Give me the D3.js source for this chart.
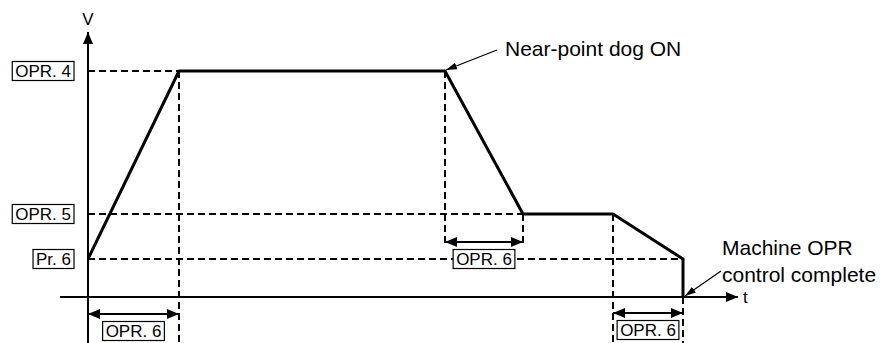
<!DOCTYPE html>
<html>
  <head>
    <meta charset="utf-8">
    <title>Machine OPR speed profile</title>
    <script src="https://cdn.jsdelivr.net/npm/d3@7/dist/d3.min.js"></script>
    <style>
      body { margin: 0; background: #fff; }
      svg { display: block; }
      text { font-family: "Liberation Sans", Arial, sans-serif; fill: #000; }
      .axis { stroke: #000; stroke-width: 2; fill: none; }
      .dash { stroke: #000; stroke-width: 2; stroke-dasharray: 7 4; fill: none; }
      .profile { stroke: #000; stroke-width: 3; fill: none; stroke-linejoin: round; }
      .span { stroke: #000; stroke-width: 2; fill: none; }
      .callout { stroke: #000; stroke-width: 1.2; fill: none; }
      .box { fill: #fff; stroke: #000; stroke-width: 1.2; }
      .boxLabel { font-size: 17px; }
      .note { font-size: 21px; }
    </style>
  </head>
  <body>
    <svg id="chart" width="891" height="343"></svg>

    <script>
      // data (time and speed in drawing units)
      profileT = [0, 91, 357, 435, 525, 595, 595];
      profileV = [38, 226, 226, 83, 83, 38, 0];

      levelNames = ["OPR. 4", "OPR. 5", "Pr. 6"];
      levelValues = [226, 83, 38];
      levelEnds = [91, 435, 595];

      guideT = [91, 357, 435, 525, 595];
      guideTop = [226, 226, 83, 83, 0];
      guideBottom = [-46, 50, 50, -46, -46];

      spanFrom = [0, 357, 525];
      spanTo = [91, 435, 595];
      spanV = [-17, 55, -16];
      spanLabels = ["OPR. 6", "OPR. 6", "OPR. 6"];

      // page elements
      chart = d3.select("#chart");

      x = d3.scaleLinear().domain([0, 650]).range([88, 738]);
      y = d3.scaleLinear().domain([0, 226]).range([297, 71]);

      defs = chart.append("defs");
      function marker(id, w, h) {
        defs.append("marker")
          .attr("id", id)
          .attr("viewBox", "0 0 " + w + " " + h)
          .attr("refX", w).attr("refY", h / 2)
          .attr("markerWidth", w).attr("markerHeight", h)
          .attr("markerUnits", "userSpaceOnUse")
          .attr("orient", "auto-start-reverse")
          .append("path")
            .attr("d", "M0,0L" + w + "," + (h / 2) + "L0," + h + "Z")
            .attr("fill", "#000");
      }
      marker("axisHead", 12, 10);
      marker("spanHead", 12, 10);
      marker("noteHead", 11, 7);

      // dashed level lines
      chart.selectAll(".levelLine")
          .data(levelValues)
        .enter().append("line")
          .attr("class", "dash levelLine")
          .attr("x1", x(0))
          .attr("x2", function(d, i) { return x(levelEnds[i]); })
          .attr("y1", function(d) { return y(d); })
          .attr("y2", function(d) { return y(d); });

      // dashed guide lines
      chart.selectAll(".guideLine")
          .data(guideT)
        .enter().append("line")
          .attr("class", "dash guideLine")
          .attr("x1", function(d) { return x(d); })
          .attr("x2", function(d) { return x(d); })
          .attr("y1", function(d, i) { return y(guideTop[i]); })
          .attr("y2", function(d, i) { return y(guideBottom[i]); });

      // axes
      chart.append("line")
        .attr("class", "axis")
        .attr("x1", x(0)).attr("x2", x(0))
        .attr("y1", y(-46)).attr("y2", y(265))
        .attr("marker-end", "url(#axisHead)");
      chart.append("line")
        .attr("class", "axis")
        .attr("x1", x(-28)).attr("x2", x(650))
        .attr("y1", y(0)).attr("y2", y(0))
        .attr("marker-end", "url(#axisHead)");
      chart.append("text")
        .attr("x", x(0)).attr("y", y(272))
        .attr("text-anchor", "middle")
        .style("font-size", "17px")
        .text("V");
      chart.append("text")
        .attr("x", x(655)).attr("y", y(-6))
        .style("font-size", "17px")
        .text("t");

      // speed profile
      line = d3.line()
        .x(function(d) { return x(d[0]); })
        .y(function(d) { return y(d[1]); });
      chart.append("path")
        .attr("class", "profile")
        .attr("d", line(d3.zip(profileT, profileV)));

      // double-headed spans
      chart.selectAll(".spanLine")
          .data(spanFrom)
        .enter().append("line")
          .attr("class", "span spanLine")
          .attr("x1", function(d) { return x(d); })
          .attr("x2", function(d, i) { return x(spanTo[i]); })
          .attr("y1", function(d, i) { return y(spanV[i]); })
          .attr("y2", function(d, i) { return y(spanV[i]); })
          .attr("marker-start", "url(#spanHead)")
          .attr("marker-end", "url(#spanHead)");

      // boxed labels
      function boxLabel(cx, cy, anchor, label) {
        g = chart.append("g");
        t = g.append("text")
          .attr("class", "boxLabel")
          .attr("x", cx).attr("y", cy)
          .attr("dy", "0.35em")
          .attr("text-anchor", anchor)
          .text(label);
        b = t.node().getBBox();
        g.insert("rect", "text")
          .attr("class", "box")
          .attr("x", b.x - 3).attr("y", cy - 9.5)
          .attr("width", b.width + 6).attr("height", 19);
      }
      levelNames.forEach(function(d, i) {
        boxLabel(x(0) - 17, y(levelValues[i]), "end", d);
      });
      spanLabels.forEach(function(d, i) {
        var cy = i == 1 ? y(spanV[i]) + 17 : y(spanV[i]) + 17;
        boxLabel((x(spanFrom[i]) + x(spanTo[i])) / 2, cy, "middle", d);
      });

      // callouts
      chart.append("line")
        .attr("class", "callout")
        .attr("x1", x(409)).attr("y1", y(247))
        .attr("x2", x(358)).attr("y2", y(227))
        .attr("marker-end", "url(#noteHead)");
      chart.append("text")
        .attr("class", "note")
        .attr("x", x(417)).attr("y", y(241))
        .text("Near-point dog ON");

      chart.append("line")
        .attr("class", "callout")
        .attr("x1", x(633)).attr("y1", y(26))
        .attr("x2", x(597)).attr("y2", y(1))
        .attr("marker-end", "url(#noteHead)");
      chart.append("text")
        .attr("class", "note")
        .attr("x", x(634)).attr("y", y(42))
        .text("Machine OPR");
      chart.append("text")
        .attr("class", "note")
        .attr("x", x(634)).attr("y", y(15))
        .text("control complete");
    </script>
  </body>
</html>
